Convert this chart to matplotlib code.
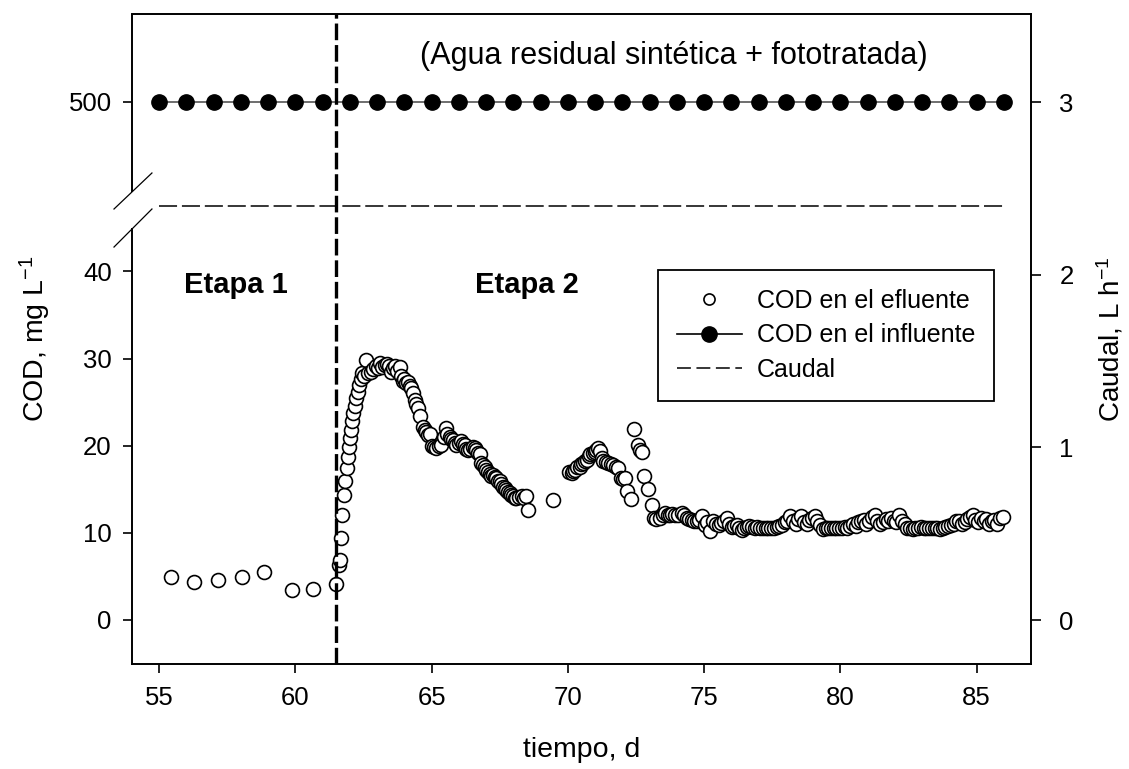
import numpy as np
import matplotlib
matplotlib.use("Agg")
import matplotlib.pyplot as plt
from matplotlib.lines import Line2D

plt.rcParams['font.family'] = ['Liberation Sans', 'DejaVu Sans']
plt.rcParams['mathtext.fontset'] = 'custom'
plt.rcParams['mathtext.rm'] = 'Liberation Sans'
plt.rcParams['mathtext.it'] = 'Liberation Sans:italic'
plt.rcParams['mathtext.bf'] = 'Liberation Sans:bold'
plt.rcParams['lines.scale_dashes'] = False

# ---------------- data ----------------
efl_days = [55.44, 56.29, 57.17, 58.05, 58.86, 59.89, 60.66, 61.50,
            61.60, 61.64, 61.68, 61.72, 61.78, 61.83, 61.88, 61.92, 61.98, 62.02,
            62.05, 62.09, 62.13, 62.17, 62.22, 62.28, 62.34, 62.40, 62.46, 62.52,
            62.60, 62.66, 62.78, 62.86, 62.94, 63.02, 63.09, 63.18, 63.27, 63.35,
            63.43, 63.52, 63.58, 63.64, 63.73, 63.82, 63.88, 63.94, 64.00, 64.07,
            64.13, 64.20, 64.25, 64.31, 64.38, 64.44, 64.50, 64.59, 64.68, 64.74,
            64.80, 64.88, 64.95, 65.02, 65.10, 65.17, 65.26, 65.36, 65.44, 65.51,
            65.58, 65.66, 65.72, 65.78, 65.84, 65.90, 66.00, 66.09, 66.15, 66.21,
            66.27, 66.33, 66.42, 66.52, 66.58, 66.64, 66.70, 66.76, 66.82, 66.88,
            66.95, 67.01, 67.07, 67.13, 67.19, 67.26, 67.32, 67.38, 67.44, 67.50,
            67.56, 67.62, 67.68, 67.74, 67.80, 67.87, 67.93, 67.99, 68.05, 68.11,
            68.20, 68.30, 68.40, 68.46, 68.52, 69.46,
            70.05, 70.14, 70.20, 70.26, 70.35, 70.44, 70.50, 70.56, 70.64, 70.71,
            70.77, 70.83, 70.92, 70.99, 71.05, 71.11, 71.18, 71.24, 71.30, 71.40,
            71.48, 71.57, 71.67, 71.76, 71.85, 71.94, 72.03, 72.10, 72.18, 72.32,
            72.44, 72.56, 72.66, 72.71, 72.80, 72.95, 73.08, 73.16, 73.25, 73.38,
            73.48, 73.57, 73.66, 73.75, 73.84, 73.93, 74.05, 74.18, 74.27, 74.36,
            74.45, 74.55, 74.64, 74.73, 74.82, 74.91, 75.04, 75.12, 75.20, 75.34,
            75.44, 75.53, 75.62, 75.72, 75.83, 75.92, 76.01, 76.10, 76.20, 76.29,
            76.38, 76.48, 76.57, 76.66, 76.76, 76.86, 76.96, 77.06, 77.16, 77.26,
            77.36, 77.46, 77.56, 77.66, 77.76, 77.86, 77.96, 78.06, 78.16, 78.26,
            78.36, 78.46, 78.56, 78.66, 78.76, 78.86, 78.96, 79.06, 79.16, 79.26,
            79.36, 79.46, 79.56, 79.66, 79.76, 79.86, 79.96, 80.06, 80.16, 80.26,
            80.36, 80.46, 80.56, 80.66, 80.76, 80.86, 80.96, 81.06, 81.16, 81.26,
            81.36, 81.46, 81.56, 81.66, 81.76, 81.86, 81.96, 82.06, 82.16, 82.26,
            82.36, 82.46, 82.56, 82.66, 82.76, 82.86, 82.96, 83.06, 83.16, 83.26,
            83.36, 83.46, 83.56, 83.66, 83.76, 83.86, 83.96, 84.06, 84.16, 84.26,
            84.36, 84.46, 84.56, 84.66, 84.76, 84.86, 84.96, 85.06, 85.16, 85.26,
            85.36, 85.46, 85.56, 85.66, 85.76, 85.86, 85.96]
efl_cod = [4.9, 4.4, 4.6, 4.9, 5.5, 3.4, 3.5, 4.1,
           6.3, 6.9, 9.4, 12.0, 14.3, 15.9, 17.4, 18.7, 19.9, 20.9,
           21.8, 22.8, 23.8, 24.6, 25.5, 26.2, 27.0, 27.6, 28.4, 28.0,
           29.8, 28.3, 28.5, 28.8, 29.1, 28.9, 29.5, 29.0, 29.3, 29.4,
           29.2, 28.5, 28.9, 29.1, 28.6, 29.0, 28.0, 27.4, 27.6, 27.2,
           27.3, 26.8, 26.6, 26.1, 25.3, 24.8, 24.3, 23.4, 22.2, 21.8,
           21.6, 21.2, 21.3, 20.0, 19.8, 19.7, 20.0, 20.1, 21.0, 22.0,
           21.4, 21.0, 20.8, 20.7, 20.3, 20.1, 20.3, 20.5, 20.2, 20.1,
           19.6, 19.5, 19.6, 19.9, 19.7, 19.5, 19.2, 19.0, 18.0, 17.8,
           17.6, 17.2, 17.0, 16.8, 16.5, 16.6, 16.4, 16.3, 16.0, 15.9,
           15.6, 15.3, 15.1, 14.9, 14.7, 14.6, 14.3, 14.2, 14.0, 14.0,
           14.1, 14.2, 14.0, 14.2, 12.6, 13.8,
           17.0, 16.9, 17.1, 17.2, 17.5, 17.6, 17.9, 18.0, 18.3, 18.4,
           18.8, 19.0, 19.2, 19.3, 19.5, 19.7, 19.4, 18.6, 18.2, 18.1,
           18.0, 17.9, 17.8, 17.6, 17.4, 16.3, 16.2, 16.3, 14.8, 13.9,
           21.9, 20.1, 19.5, 19.3, 16.5, 15.0, 13.2, 11.7, 11.6, 11.7,
           12.0, 12.3, 12.1, 12.1, 12.2, 12.1, 12.0, 12.3, 12.0, 11.7,
           11.6, 11.5, 11.4, 11.3, 11.5, 11.9, 10.9, 11.2, 10.2, 11.3,
           11.0, 10.9, 11.1, 11.3, 11.7, 11.0, 10.7, 10.8, 10.9, 10.6,
           10.3, 10.6, 10.7, 10.8, 10.7, 10.6, 10.7, 10.5, 10.6, 10.5,
           10.6, 10.5, 10.6, 10.7, 10.8, 10.9, 11.2, 11.4, 11.9, 11.4,
           11.0, 11.6, 11.9, 11.2, 11.0, 11.5, 11.7, 11.9, 11.3, 10.9,
           10.4, 10.6, 10.5, 10.6, 10.5, 10.6, 10.5, 10.6, 10.7, 10.6,
           10.8, 11.0, 10.8, 11.2, 11.4, 11.5, 11.0, 11.3, 11.8, 12.0,
           11.4, 11.0, 11.2, 11.6, 11.3, 11.7, 11.4, 11.2, 12.0, 11.3,
           11.0, 10.6, 10.5, 10.4, 10.6, 10.5, 10.7, 10.6, 10.5, 10.6,
           10.5, 10.6, 10.5, 10.4, 10.6, 10.7, 10.8, 10.9, 11.0, 11.3,
           11.4, 11.0, 11.2, 11.6, 11.8, 12.0, 11.5, 11.2, 11.7, 11.4,
           11.6, 11.0, 11.3, 11.5, 11.0, 11.7, 11.8]

inf_days = [55, 56, 57, 58, 59, 60, 61, 62, 63, 64, 65, 66, 67, 68, 69, 70,
            71, 72, 73, 74, 75, 76, 77, 78, 79, 80, 81, 82, 83, 84, 85, 86]
inf_cod = [500] * len(inf_days)

caudal_days = [55, 86]
caudal_val = [2.4, 2.4]

stage_change = 61.5
left_ticks = [0, 10, 20, 30, 40, 500]
right_ticks = [0, 1, 2, 3]
x_ticks = [55, 60, 65, 70, 75, 80, 85]

# ---------------- broken y scale ----------------
LO, HI, GAP = 44.9, 489.7, 4.25


def fwd(y):
    y = np.asarray(y, dtype=float)
    return np.where(y <= LO, y,
                    np.where(y >= HI, y - HI + LO + GAP,
                             LO + (y - LO) * GAP / (HI - LO)))


def inv(c):
    c = np.asarray(c, dtype=float)
    return np.where(c <= LO, c,
                    np.where(c >= LO + GAP, c - LO - GAP + HI,
                             LO + (c - LO) * (HI - LO) / GAP))


fig = plt.figure(figsize=(11.29, 7.69), dpi=100)
ax = fig.add_axes([0.1169, 0.1365, 0.7963, 0.8453])
ax.set_yscale('function', functions=(fwd, inv))
ax.set_xlim(54.0, 87.0)
ax.set_ylim(-5.06, 510.1)

ax2 = ax.twinx()
ax2.set_ylim(-0.255, 3.51)

# spines
for s in ['top', 'bottom', 'left']:
    ax2.spines[s].set_visible(False)
ax.spines['right'].set_visible(False)
for sp in ax.spines.values():
    sp.set_linewidth(1.4)
ax2.spines['right'].set_linewidth(1.4)
ax.spines['left'].set_bounds(-5.06, LO)
ax.plot([0, 0], [HI, 510.1], transform=ax.get_yaxis_transform(),
        color='k', lw=1.4, clip_on=False, solid_capstyle='butt')
# break marks
ax.plot([-0.020, 0.0222], [0.700, 0.7554], transform=ax.transAxes,
        color='k', lw=0.9, clip_on=False)
ax.plot([-0.020, 0.0222], [0.6415, 0.700], transform=ax.transAxes,
        color='k', lw=0.9, clip_on=False)

# data
ax.plot(inf_days, inf_cod, '-', color='#555555', lw=1.2, marker='o',
        ms=11, mfc='k', mec='k', zorder=3)
ax.plot(efl_days, efl_cod, linestyle='none', marker='o', ms=10,
        mfc='white', mec='k', mew=1.2, zorder=4)
ax.axvline(stage_change, color='k', lw=2.4, linestyle=(0, (12, 3.5)), zorder=5)
ax2.plot(caudal_days, caudal_val, color='k', lw=1.1, linestyle=(0, (13, 3.5)))

# ticks
ax.set_xticks(x_ticks)
ax.set_yticks(left_ticks)
ax.set_yticklabels([str(t) for t in left_ticks])
ax.minorticks_off()
ax.tick_params(axis='x', direction='out', length=6.5, width=1.2, pad=9,
               labelsize=18.5, top=False)
ax.tick_params(axis='y', direction='out', length=6.5, width=1.2, pad=8,
               labelsize=18.5, right=False)
ax2.set_yticks(right_ticks)
ax2.tick_params(axis='y', direction='out', length=7.5, width=1.2, pad=13,
                labelsize=18.5)

ax.set_xlabel('tiempo, d', fontsize=20.5, labelpad=20)
ax.set_ylabel('COD, mg L$^{\\mathregular{-1}}$', fontsize=20.5, labelpad=11)
ax2.set_ylabel('Caudal, L h$^{\\mathregular{-1}}$', fontsize=20, labelpad=15)

# annotations
ax.text(57.8, 38.5, 'Etapa 1', fontsize=21, fontweight='bold',
        ha='center', va='center')
ax.text(68.5, 38.4, 'Etapa 2', fontsize=21, fontweight='bold',
        ha='center', va='center')
ax.text(73.9, 505.3, '(Agua residual sintética + fototratada)', fontsize=22,
        ha='center', va='center')

# legend
handles = [
    Line2D([], [], linestyle='none', marker='o', ms=8, mfc='white', mec='k', mew=1.2),
    Line2D([], [], color='k', lw=1.2, marker='o', ms=11, mfc='k', mec='k'),
    Line2D([], [], color='k', lw=1.1, linestyle=(0, (10, 4))),
]
labels = ['COD en el efluente', 'COD en el influente', 'Caudal']
leg = ax2.legend(handles, labels, loc='upper left',
                 bbox_to_anchor=(0.585, 0.606), fontsize=18,
                 frameon=True, fancybox=False, shadow=False,
                 edgecolor='k', framealpha=1, handlelength=2.6,
                 handletextpad=0.6, borderpad=0.75, labelspacing=0.42,
                 borderaxespad=0)
leg.get_frame().set_linewidth(1.3)

fig.savefig('out.png', dpi=100)
